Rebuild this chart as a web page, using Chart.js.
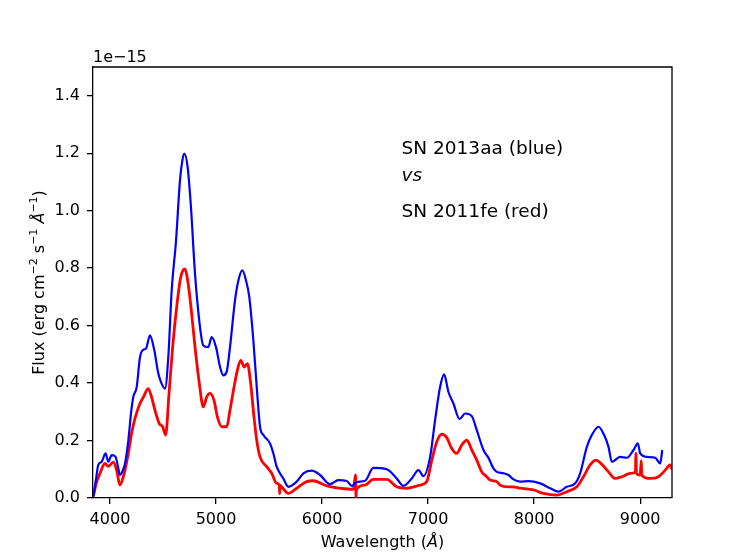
<!DOCTYPE html>
<html>
<head>
<meta charset="utf-8">
<script src="https://cdn.jsdelivr.net/npm/chart.js@4.4.1/dist/chart.umd.min.js"></script>
<style>
  html, body { margin: 0; padding: 0; background: #fff; }
  #wrap { width: 747px; height: 560px; }
</style>
</head>
<body>
<div id="wrap"><canvas id="spec" width="747" height="560"></canvas></div>
<script>
// flux in units of 1e-15 erg cm^-2 s^-1 A^-1
const blueWave = [3843, 3870, 3890, 3922, 3959, 3984, 4016, 4053, 4075, 4094, 4120, 4142, 4173, 4200, 4220, 4252,
    4283, 4314, 4340, 4377, 4415, 4456, 4487, 4519, 4550, 4582, 4623, 4660, 4685, 4701, 4733, 4764, 4802, 4849,
    4880, 4927, 4959, 5000, 5038, 5069, 5101, 5132, 5179, 5211, 5248, 5283, 5314, 5352, 5384, 5415, 5447, 5509,
    5541, 5572, 5635, 5682, 5761, 5824, 5903, 5981, 6075, 6154, 6233, 6280, 6327, 6406, 6484, 6610, 6704, 6767,
    6846, 6909, 6956, 7019, 7066, 7113, 7151, 7192, 7239, 7296, 7349, 7412, 7459, 7522, 7550, 7569, 7616, 7648,
    7711, 7758, 7805, 7868, 7947, 8057, 8151, 8230, 8308, 8387, 8434, 8497, 8544, 8607, 8660, 8701, 8733, 8811,
    8874, 8937, 8978, 9000, 9063, 9142, 9189, 9208];
const blueFlux = [0.005, 0.07, 0.115, 0.126, 0.155, 0.126, 0.149, 0.143, 0.11, 0.080, 0.095, 0.12, 0.20, 0.30, 0.352, 0.386,
    0.49, 0.516, 0.52, 0.566, 0.52, 0.433, 0.398, 0.381, 0.49, 0.722, 0.896, 1.104, 1.18, 1.199, 1.150, 1.011, 0.78, 0.595,
    0.531, 0.525, 0.56, 0.525, 0.456, 0.427, 0.44, 0.525, 0.688, 0.757, 0.792, 0.757, 0.699, 0.549, 0.386, 0.248, 0.219, 0.19,
    0.155, 0.109, 0.068, 0.039, 0.057, 0.086, 0.095, 0.08, 0.048, 0.062, 0.059, 0.042, 0.056, 0.06, 0.105, 0.1, 0.068, 0.042,
    0.068, 0.097, 0.076, 0.143, 0.271, 0.386, 0.43, 0.369, 0.329, 0.275, 0.294, 0.285, 0.236, 0.167, 0.15, 0.14, 0.103, 0.091,
    0.086, 0.08, 0.065, 0.057, 0.059, 0.051, 0.034, 0.022, 0.039, 0.051, 0.086, 0.178, 0.219, 0.248, 0.219, 0.178, 0.126, 0.143,
    0.14, 0.167, 0.19, 0.155, 0.143, 0.14, 0.12, 0.167];

const redWave = [3843, 3870, 3906, 3953, 3984, 4031, 4063, 4094, 4126, 4173, 4204, 4236, 4283, 4314, 4361, 4393,
    4424, 4465, 4497, 4525, 4557, 4591, 4629, 4667, 4708, 4733, 4764, 4802, 4843, 4880, 4912, 4943, 4981, 5013,
    5053, 5101, 5132, 5170, 5201, 5233, 5267, 5296, 5327, 5358, 5384, 5415, 5478, 5525, 5572, 5597, 5600, 5604,
    5619, 5682, 5761, 5855, 5918, 6044, 6170, 6295, 6316, 6320, 6325, 6406, 6484, 6610, 6704, 6798, 6923, 6987,
    7035, 7082, 7129, 7176, 7223, 7270, 7317, 7365, 7412, 7459, 7506, 7553, 7585, 7648, 7679, 7758, 7805, 7868,
    7994, 8088, 8214, 8308, 8403, 8465, 8528, 8582, 8645, 8701, 8764, 8827, 8906, 8955, 8960, 8965, 9000, 9010,
    9015, 9094, 9173, 9236, 9283, 9300];
const redFlux = [0.005, 0.05, 0.086, 0.12, 0.11, 0.125, 0.097, 0.045, 0.074, 0.155, 0.225, 0.277, 0.329, 0.35, 0.381, 0.35,
    0.306, 0.259, 0.248, 0.219, 0.364, 0.525, 0.664, 0.768, 0.797, 0.757, 0.664, 0.525, 0.398, 0.317, 0.352, 0.364, 0.34, 0.282,
    0.248, 0.248, 0.306, 0.386, 0.444, 0.479, 0.456, 0.468, 0.398, 0.282, 0.201, 0.143, 0.109, 0.086, 0.051, 0.045, 0.015, 0.045,
    0.039, 0.016, 0.034, 0.057, 0.06, 0.042, 0.034, 0.03, 0.08, 0.003, 0.03, 0.045, 0.065, 0.065, 0.039, 0.034, 0.045, 0.057,
    0.132, 0.196, 0.222, 0.21, 0.172, 0.155, 0.184, 0.201, 0.167, 0.132, 0.091, 0.074, 0.0625, 0.057, 0.045, 0.039, 0.039, 0.034,
    0.028, 0.016, 0.01, 0.022, 0.039, 0.074, 0.115, 0.132, 0.115, 0.091, 0.068, 0.074, 0.086, 0.09, 0.155, 0.085, 0.08, 0.13,
    0.08, 0.068, 0.074, 0.097, 0.115, 0.1];

const xTicks = [4000, 5000, 6000, 7000, 8000, 9000];
const yTicks = [0.0, 0.2, 0.4, 0.6, 0.8, 1.0, 1.2, 1.4];

const FONT = '"DejaVu Sans", sans-serif';

function toPoints(xs, ys) {
    return xs.map((x, i) => ({ x: x, y: ys[i] }));
}

// draws runs of text pieces (normal / italic / superscript) starting at x
function drawPieces(ctx, pieces, x, y) {
    let cx = x;
    pieces.forEach(p => {
        ctx.font = (p.italic ? 'italic ' : '') + (p.sup ? '11px ' : '16px ') + FONT;
        ctx.fillText(p.t, cx, p.sup ? y - 7 : y);
        cx += ctx.measureText(p.t).width;
    });
    return cx - x;
}

function piecesWidth(ctx, pieces) {
    let w = 0;
    pieces.forEach(p => {
        ctx.font = (p.italic ? 'italic ' : '') + (p.sup ? '11px ' : '16px ') + FONT;
        w += ctx.measureText(p.t).width;
    });
    return w;
}

const decorPlugin = {
    id: 'decor',
    afterDraw(chart) {
        const ctx = chart.ctx;
        const a = chart.chartArea;
        const xs = chart.scales.x, ys = chart.scales.y;
        ctx.save();
        // top and right spines
        ctx.strokeStyle = '#000';
        ctx.lineWidth = 1.3;
        ctx.beginPath();
        ctx.moveTo(a.left, a.top);
        ctx.lineTo(a.right, a.top);
        ctx.lineTo(a.right, a.bottom);
        ctx.stroke();

        ctx.fillStyle = '#000';
        ctx.textBaseline = 'alphabetic';
        ctx.textAlign = 'left';

        // offset text
        ctx.font = '16px ' + FONT;
        ctx.fillText('1e\u221215', a.left, 62);

        // x label
        const xl = [{ t: 'Wavelength (' }, { t: 'Å', italic: true }, { t: ')' }];
        const xw = piecesWidth(ctx, xl);
        drawPieces(ctx, xl, (a.left + a.right) / 2 - xw / 2, 547);

        // y label
        const yl = [{ t: 'Flux (erg cm' }, { t: '\u22122', sup: true }, { t: ' s' }, { t: '\u22121', sup: true },
            { t: ' ' }, { t: 'Å', italic: true }, { t: '\u22121', sup: true }, { t: ')' }];
        const yw = piecesWidth(ctx, yl);
        ctx.save();
        ctx.translate(44, (a.top + a.bottom) / 2);
        ctx.rotate(-Math.PI / 2);
        drawPieces(ctx, yl, -yw / 2, 0);
        ctx.restore();

        // annotation
        const tx = xs.getPixelForValue(6750);
        ctx.font = '18.5px ' + FONT;
        ctx.fillText('SN 2013aa (blue)', tx, ys.getPixelForValue(1.197));
        ctx.font = 'italic 18.5px ' + FONT;
        ctx.fillText('vs', tx, ys.getPixelForValue(1.104));
        ctx.font = '18.5px ' + FONT;
        ctx.fillText('SN 2011fe (red)', tx, ys.getPixelForValue(0.977));
        ctx.restore();
    }
};

const tickStyle = { color: '#000', font: { family: FONT, size: 16 } };
const gridStyle = { display: true, drawOnChartArea: false, drawTicks: true, tickLength: 6, color: '#000', lineWidth: 1.3 };
const borderStyle = { display: true, color: '#000', width: 1.3 };

new Chart(document.getElementById('spec'), {
    type: 'scatter',
    data: {
        datasets: [{
            label: 'SN 2013aa',
            data: toPoints(blueWave, blueFlux),
            showLine: true,
            borderColor: '#0000ff',
            borderWidth: 2.2,
            pointRadius: 0,
            cubicInterpolationMode: 'monotone'
        }, {
            label: 'SN 2011fe',
            data: toPoints(redWave, redFlux),
            showLine: true,
            borderColor: '#ff0000',
            borderWidth: 2.8,
            pointRadius: 0,
            cubicInterpolationMode: 'monotone'
        }]
    },
    options: {
        responsive: false,
        animation: false,
        devicePixelRatio: 1,
        layout: { padding: { top: 67, right: 75, left: 0, bottom: 0 } },
        plugins: { legend: { display: false }, tooltip: { enabled: false } },
        scales: {
            x: {
                type: 'linear',
                min: 3840,
                max: 9300,
                afterBuildTicks: s => { s.ticks = xTicks.map(v => ({ value: v })); },
                afterFit: s => { s.height = 62; },
                ticks: Object.assign({ padding: 6, maxRotation: 0, callback: v => String(v) }, tickStyle),
                grid: gridStyle,
                border: borderStyle
            },
            y: {
                type: 'linear',
                min: 0,
                max: 1.5,
                afterBuildTicks: s => { s.ticks = yTicks.map(v => ({ value: v })); },
                afterFit: s => { s.width = 93; },
                ticks: Object.assign({ padding: 7, callback: v => v.toFixed(1) }, tickStyle),
                grid: gridStyle,
                border: borderStyle
            }
        }
    },
    plugins: [decorPlugin]
});
</script>
</body>
</html>
